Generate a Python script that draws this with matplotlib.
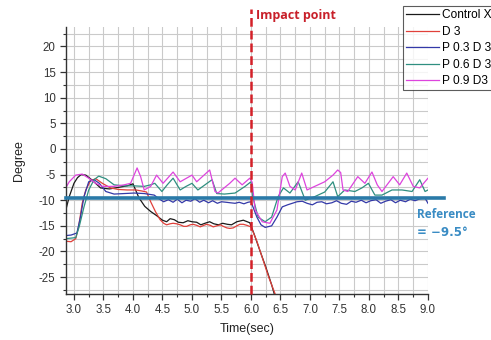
import matplotlib
matplotlib.use("Agg")
import matplotlib.pyplot as plt
from matplotlib.ticker import MultipleLocator

plt.rcParams['font.family'] = ['Liberation Sans', 'DejaVu Sans']

# ---------------- data ----------------
t_black = [2.86, 2.92, 3.00, 3.06, 3.12, 3.20, 3.30, 3.45, 3.60, 3.75,
           3.90, 4.00, 4.10, 4.20, 4.30, 4.40, 4.50, 4.57, 4.63, 4.70,
           4.77, 4.85, 4.93, 5.00, 5.08, 5.15, 5.22, 5.30, 5.37, 5.45,
           5.52, 5.60, 5.67, 5.76, 5.87, 5.98, 6.05, 6.15, 6.25, 6.35, 6.40]
y_black = [-12.0, -9.3, -6.7, -5.6, -5.0, -5.1, -6.0, -7.6, -7.8, -7.5,
           -7.2, -6.8, -9.5, -11.2, -12.2, -13.0, -13.9, -14.2, -13.6, -13.8,
           -14.3, -14.4, -14.0, -14.2, -14.3, -14.8, -14.5, -14.2, -14.6, -14.8,
           -14.5, -14.7, -14.8, -14.2, -13.9, -14.4, -16.5, -19.8, -23.0, -26.5, -28.5]

t_red = [2.86, 2.95, 3.03, 3.08, 3.14, 3.20, 3.28, 3.37, 3.48, 3.62,
         3.75, 3.90, 4.05, 4.15, 4.23, 4.30, 4.38, 4.46, 4.52, 4.57,
         4.63, 4.68, 4.74, 4.80, 4.86, 4.91, 4.97, 5.02, 5.08, 5.14,
         5.20, 5.25, 5.31, 5.36, 5.42, 5.48, 5.53, 5.59, 5.64, 5.70,
         5.76, 5.81, 5.87, 5.93, 6.00, 6.10, 6.20, 6.30, 6.42]
y_red = [-18.0, -18.1, -17.5, -15.1, -10.6, -8.0, -6.2, -5.8, -6.7, -7.6,
         -7.9, -8.0, -8.0, -8.2, -8.4, -10.3, -12.2, -13.8, -14.5, -14.8,
         -14.6, -14.5, -14.6, -14.8, -15.1, -15.1, -14.8, -14.7, -14.9, -15.2,
         -14.9, -14.7, -14.9, -15.2, -15.0, -14.8, -15.1, -15.4, -15.5, -15.4,
         -15.0, -14.7, -14.7, -14.9, -15.2, -18.0, -21.5, -25.0, -28.6]

t_blue = [2.86, 2.95, 3.05, 3.11, 3.17, 3.25, 3.34, 3.43, 3.54, 3.68,
          3.85, 4.02, 4.19, 4.36, 4.45, 4.52, 4.60, 4.68, 4.75, 4.83,
          4.90, 4.98, 5.05, 5.13, 5.20, 5.28, 5.35, 5.43, 5.50, 5.58,
          5.65, 5.73, 5.80, 5.88, 5.95, 6.00, 6.10, 6.17, 6.24, 6.35,
          6.44, 6.53, 6.62, 6.70, 6.78, 6.87, 6.95, 7.04, 7.12, 7.20,
          7.28, 7.37, 7.45, 7.53, 7.62, 7.70, 7.78, 7.87, 7.95, 8.03,
          8.12, 8.20, 8.28, 8.37, 8.45, 8.53, 8.62, 8.70, 8.78, 8.87,
          8.95, 9.00]
y_blue = [-16.9, -16.8, -16.4, -13.3, -9.3, -6.4, -6.0, -6.7, -8.3, -8.8,
          -8.7, -8.6, -8.7, -9.0, -9.8, -10.3, -9.9, -10.4, -9.8, -10.5,
          -10.0, -10.2, -9.7, -10.4, -10.0, -10.5, -10.1, -10.6, -10.3, -10.4,
          -10.5, -10.6, -10.4, -10.7, -10.4, -10.3, -13.3, -14.8, -15.3, -15.0,
          -13.3, -11.3, -10.9, -10.6, -10.3, -10.2, -10.6, -10.9, -10.4, -10.3,
          -10.7, -10.5, -10.1, -10.6, -10.8, -10.2, -10.4, -10.0, -10.5, -10.1,
          -9.9, -10.6, -10.2, -9.9, -10.5, -10.0, -10.3, -9.8, -10.1, -9.7,
          -9.6, -10.6]

t_teal = [2.86, 3.03, 3.09, 3.17, 3.25, 3.34, 3.42, 3.54, 3.68, 3.85,
          4.02, 4.19, 4.30, 4.37, 4.49, 4.58, 4.68, 4.80, 4.90, 5.00,
          5.10, 5.22, 5.34, 5.42, 5.55, 5.73, 5.90, 6.00, 6.03, 6.12,
          6.24, 6.35, 6.46, 6.55, 6.66, 6.80, 6.92, 7.08, 7.25, 7.39,
          7.47, 7.59, 7.76, 7.88, 7.99, 8.10, 8.22, 8.39, 8.56, 8.73,
          8.86, 8.95, 9.00]
y_teal = [-17.5, -17.3, -15.1, -11.3, -8.0, -6.0, -5.3, -5.8, -7.0, -7.2,
          -7.2, -7.3, -7.0, -6.7, -8.3, -7.0, -5.7, -8.0, -7.3, -6.7,
          -8.0, -7.0, -6.0, -8.7, -8.8, -8.6, -7.3, -6.4, -9.3, -13.3,
          -14.2, -13.3, -9.3, -7.6, -8.6, -6.4, -10.0, -9.3, -8.4, -6.4,
          -9.3, -8.0, -8.3, -7.6, -6.7, -9.0, -9.0, -8.0, -8.0, -8.3,
          -6.0, -8.3, -8.0]

t_mag = [2.86, 2.92, 3.03, 3.14, 3.25, 3.37, 3.48, 3.68, 3.85, 3.96,
         4.07, 4.13, 4.19, 4.30, 4.40, 4.51, 4.68, 4.80, 5.00, 5.08,
         5.30, 5.39, 5.44, 5.64, 5.73, 5.85, 5.98, 6.02, 6.07, 6.19,
         6.32, 6.44, 6.53, 6.58, 6.66, 6.75, 6.86, 6.95, 7.08, 7.25,
         7.39, 7.47, 7.52, 7.56, 7.64, 7.81, 7.93, 8.05, 8.14, 8.22,
         8.41, 8.52, 8.64, 8.75, 8.86, 9.00]
y_mag = [-7.6, -6.4, -5.1, -4.9, -5.7, -6.7, -7.3, -7.3, -7.0, -6.7,
         -3.7, -5.4, -8.0, -7.3, -5.1, -6.7, -4.5, -6.4, -5.1, -6.4,
         -4.1, -8.3, -8.6, -6.7, -5.7, -7.0, -5.7, -6.5, -11.9, -14.2,
         -14.5, -11.9, -5.4, -4.7, -7.3, -8.0, -4.7, -8.0, -7.3, -6.4,
         -5.1, -4.1, -4.6, -8.0, -8.3, -5.4, -6.7, -4.5, -7.0, -8.3,
         -5.4, -7.0, -4.7, -7.3, -7.6, -5.7]

series_labels = ["Control X", "D 3", "P 0.3 D 3", "P 0.6 D 3", "P 0.9 D3"]
impact_time = 6.0
reference_value = -9.5
x_ticks = [3.0, 3.5, 4.0, 4.5, 5.0, 5.5, 6.0, 6.5, 7.0, 7.5, 8.0, 8.5, 9.0]
y_ticks = [20, 15, 10, 5, 0, -5, -10, -15, -20, -25]

# ---------------- figure ----------------
fig = plt.figure(figsize=(4.91, 3.40), dpi=100)
ax = fig.add_axes([66/491, 1-294/340, (428-66)/491, (294-27)/340])

ax.set_xlim(2.865, 9.0)
ax.set_ylim(-28.3, 23.8)

ax.xaxis.set_major_locator(MultipleLocator(0.5))
ax.xaxis.set_minor_locator(MultipleLocator(0.25))
ax.yaxis.set_major_locator(MultipleLocator(5))
ax.yaxis.set_minor_locator(MultipleLocator(2.5))
ax.set_xticks(x_ticks)
ax.set_yticks(y_ticks)
ax.set_xticklabels([f"{v:.1f}" for v in x_ticks])
ax.set_yticklabels([str(v) for v in y_ticks])

ax.grid(True, which="both", color="#cacaca", lw=0.8)
ax.set_axisbelow(True)
for s in ["top", "right"]:
    ax.spines[s].set_visible(False)
for s in ["left", "bottom"]:
    ax.spines[s].set_color("#333333")
    ax.spines[s].set_linewidth(1.0)
ax.tick_params(which="major", direction="out", length=4, width=0.9,
               labelsize=8.3, colors="#333333", labelcolor="#333333")
ax.tick_params(which="minor", direction="out", length=2, width=0.8, colors="#333333")

lw = 0.9
l1, = ax.plot(t_black, y_black, color="#1a1a1a", lw=lw)
l2, = ax.plot(t_red, y_red, color="#e0403a", lw=lw)
l3, = ax.plot(t_blue, y_blue, color="#3339a8", lw=lw)
l4, = ax.plot(t_teal, y_teal, color="#2f8f80", lw=lw)
l5, = ax.plot(t_mag, y_mag, color="#dd44dd", lw=lw)

# reference line extends beyond the plot area
ax.plot([2.865, 9.27], [reference_value, reference_value], color="#2a7aa8",
        lw=2.6, clip_on=False, zorder=5)
# impact line
ax.plot([impact_time, impact_time], [-28.3, 27.3], color="#d42028", lw=1.8,
        ls=(0, (3.5, 1.6)), clip_on=False, zorder=6)

fig.text(256/491, 1-16/340, "Impact point", color="#c8202a", fontsize=9,
         fontweight="bold", family=["Open Sans", "DejaVu Sans"],
         ha="left", va="center")
fig.text(417/491, 1-215/340, "Reference", color="#3a8cc4", fontsize=8.5,
         fontweight="bold", family=["Open Sans", "DejaVu Sans"],
         ha="left", va="center")
fig.text(417/491, 1-232/340, "= \u22129.5\u00b0", color="#3a8cc4", fontsize=8.5,
         fontweight="bold", family=["DejaVu Sans"], ha="left", va="center")

ax.set_xlabel("Time(sec)", fontsize=9, color="#222222", labelpad=5)
ax.set_ylabel("Degree", fontsize=9, color="#222222", labelpad=10)

leg = fig.legend([l1, l2, l3, l4, l5], series_labels, loc="upper left",
                 bbox_to_anchor=(403/491, 1-6/340), fontsize=8.6,
                 frameon=True, fancybox=False, edgecolor="#333333",
                 handlelength=2.8, handletextpad=0.25, labelspacing=0.38,
                 borderpad=0.25, borderaxespad=0, handleheight=0.6)
leg.get_frame().set_linewidth(0.8)

fig.savefig("out.png", dpi=100)
